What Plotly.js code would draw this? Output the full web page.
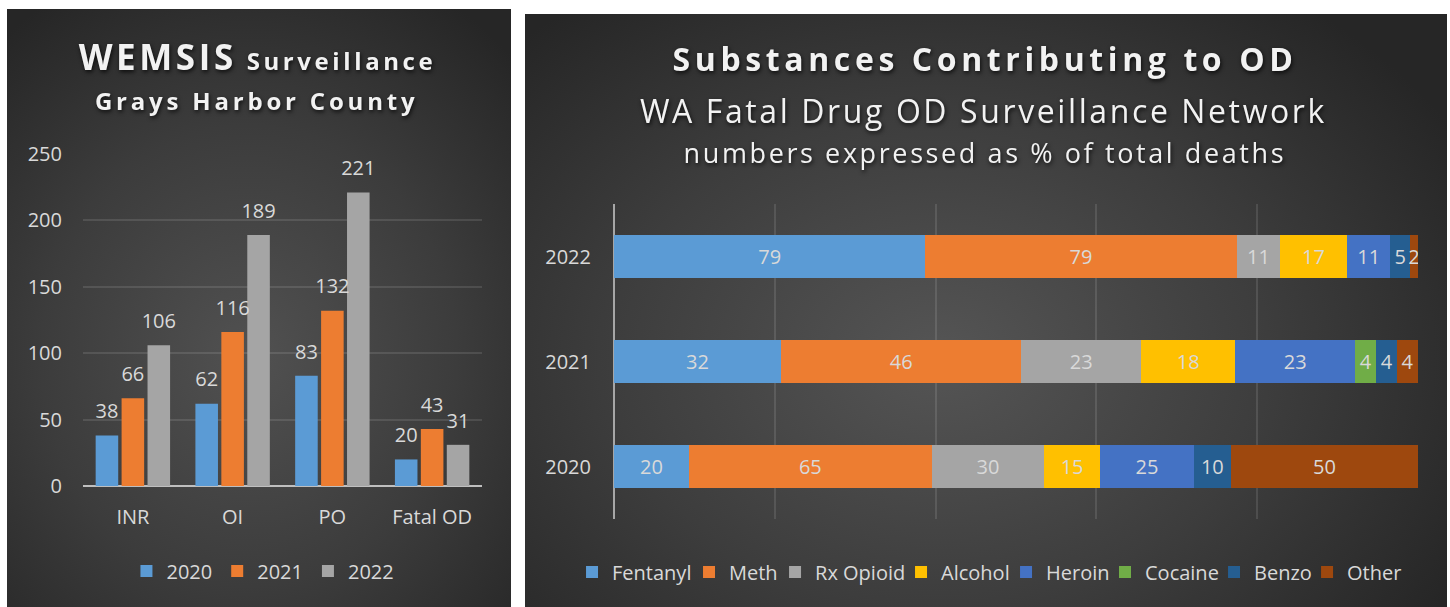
<!DOCTYPE html>
<html>
<head>
<meta charset="utf-8">
<script src="https://cdn.plot.ly/plotly-3.0.1.min.js"></script>
<style>
  html, body { margin: 0; padding: 0; background: #ffffff; width: 1450px; height: 607px; overflow: hidden; }
  #L { position: absolute; left: 7px; top: 9px; width: 504px; height: 598px;
       background: radial-gradient(ellipse 75% 70% at 48% 58%, #515151 0%, #3c3c3c 55%, #262626 100%); }
  #R { position: absolute; left: 525px; top: 14px; width: 922px; height: 593px;
       background: radial-gradient(ellipse 65% 75% at 45% 58%, #555555 0%, #3d3d3d 55%, #262626 100%); }
  .gtitle, .annotation-text { filter: drop-shadow(1px 2px 2px rgba(0,0,0,0.75)); }
  #L .gtitle { letter-spacing: 3.6px; }
  #L .annotation[data-index="0"] text { letter-spacing: 3.8px; }
  #R .gtitle { letter-spacing: 4.6px; }
  #R .annotation[data-index="0"] text { letter-spacing: 2.6px; }
  #R .annotation[data-index="1"] text { letter-spacing: 2.6px; }
</style>
</head>
<body>
<div id="L"></div>
<div id="R"></div>
<script>
// ---- Left chart data: WEMSIS Surveillance ----
const wemsisCategories = ['INR', 'OI', 'PO', 'Fatal OD'];
const wemsisYears = ['2020', '2021', '2022'];
const wemsis2020 = [38, 62, 83, 20];
const wemsis2021 = [66, 116, 132, 43];
const wemsis2022 = [106, 189, 221, 31];
const wemsisTicks = [0, 50, 100, 150, 200, 250];

// ---- Right chart data: Substances contributing to OD ----
const odYears = ['2020', '2021', '2022'];
const substances = ['Fentanyl', 'Meth', 'Rx Opioid', 'Alcohol', 'Heroin', 'Cocaine', 'Benzo', 'Other'];
const fentanyl = [20, 32, 79];
const meth     = [65, 46, 79];
const rxOpioid = [30, 23, 11];
const alcohol  = [15, 18, 17];
const heroin   = [25, 23, 11];
const cocaine  = [0, 4, 0];
const benzo    = [10, 4, 5];
const other    = [50, 4, 2];

const FONT = 'Open Sans, Noto Sans, sans-serif';
const TXT = '#d9d9d9';

// ---- Left chart ----
const leftColors = ['#5B9BD5', '#ED7D31', '#A5A5A5'];
const leftSeries = [wemsis2020, wemsis2021, wemsis2022];
const leftBars = leftSeries.map((vals, i) => ({
  type: 'bar',
  name: wemsisYears[i],
  x: wemsisCategories,
  y: vals,
  marker: { color: leftColors[i] },
  hoverinfo: 'x+y+name'
}));
// value labels, grouped to sit over each bar
const leftLabels = leftSeries.map((vals, i) => ({
  type: 'scatter',
  mode: 'markers+text',
  name: wemsisYears[i] + ' label',
  x: wemsisCategories,
  y: vals,
  text: vals.map(String),
  textposition: 'top center',
  textfont: { family: FONT, size: 20, color: TXT },
  marker: { size: 18, color: 'rgba(0,0,0,0)' },
  cliponaxis: false,
  showlegend: false,
  hoverinfo: 'skip'
}));

const leftLayout = {
  width: 504, height: 598,
  paper_bgcolor: 'rgba(0,0,0,0)', plot_bgcolor: 'rgba(0,0,0,0)',
  margin: { l: 76, r: 29, t: 145, b: 121 },
  font: { family: FONT, size: 20, color: TXT },
  barmode: 'group', bargap: 0.22, bargroupgap: 0.13,
  scattermode: 'group', scattergap: 0.22,
  title: {
    text: '<b>WEMSIS<span style="font-size:24px"> Surveillance</span></b>',
    font: { family: FONT, size: 35, color: '#f2f2f2' },
    x: 0.497, xanchor: 'center', xref: 'container',
    y: 1 - 49 / 598, yanchor: 'middle', yref: 'container'
  },
  annotations: [{
    text: '<b>Grays Harbor County</b>',
    xref: 'paper', yref: 'paper', x: 0.437, y: 1.16,
    xanchor: 'center', yanchor: 'middle', showarrow: false,
    font: { family: FONT, size: 24, color: '#f2f2f2' }
  }],
  xaxis: {
    type: 'category', showgrid: false, zeroline: false, showline: false,
    ticks: '', ticklabelstandoff: 17,
    tickfont: { family: FONT, size: 20, color: TXT }
  },
  yaxis: {
    range: [0, 250], tickvals: wemsisTicks, ticktext: wemsisTicks.map(String),
    showgrid: true, gridcolor: 'rgba(255,255,255,0.11)', gridwidth: 2,
    zeroline: true, zerolinecolor: '#bfbfbf', zerolinewidth: 2,
    showline: false, ticks: '', ticklabelstandoff: 20,
    tickfont: { family: FONT, size: 20, color: TXT }
  },
  legend: {
    orientation: 'h', x: 0.451, xanchor: 'center', y: -0.256, yanchor: 'middle',
    font: { family: FONT, size: 20, color: TXT }, traceorder: 'normal',
    bgcolor: 'rgba(0,0,0,0)'
  },
  showlegend: true
};

Plotly.newPlot('L', leftBars.concat(leftLabels), leftLayout, { displayModeBar: false, staticPlot: true });

// ---- Right chart ----
const rightColors = ['#5B9BD5', '#ED7D31', '#A5A5A5', '#FFC000', '#4472C4', '#70AD47', '#255E91', '#9E480E'];
const rightSeries = [fentanyl, meth, rxOpioid, alcohol, heroin, cocaine, benzo, other];
const legendIds = substances.map((s, i) => i === 0 ? 'legend' : 'legend' + (i + 1));
const legendX = [-0.0522, 0.0933, 0.2003, 0.3570, 0.4876, 0.6107, 0.7463, 0.8620];

const rightTraces = rightSeries.map((vals, i) => ({
  type: 'bar',
  orientation: 'h',
  name: substances[i],
  legend: legendIds[i],
  y: odYears,
  x: vals,
  text: vals.map(v => v ? String(v) : ''),
  textposition: 'inside',
  insidetextanchor: 'middle',
  constraintext: 'none',
  insidetextfont: { family: FONT, size: 20, color: TXT },
  marker: { color: rightColors[i] },
  hoverinfo: 'y+x+name'
}));

const rightLayout = {
  width: 922, height: 593,
  paper_bgcolor: 'rgba(0,0,0,0)', plot_bgcolor: 'rgba(0,0,0,0)',
  margin: { l: 89, r: 29, t: 190, b: 88 },
  font: { family: FONT, size: 20, color: TXT },
  barmode: 'stack', barnorm: 'percent', bargap: 0.59,
  title: {
    text: '<b>Substances Contributing to OD</b>',
    font: { family: FONT, size: 32, color: '#f2f2f2' },
    x: 0.499, xanchor: 'center', xref: 'container',
    y: 1 - 46 / 593, yanchor: 'middle', yref: 'container'
  },
  annotations: [{
    text: 'WA Fatal Drug OD Surveillance Network',
    xref: 'paper', yref: 'paper', x: 0.460, y: 1.298,
    xanchor: 'center', yanchor: 'middle', showarrow: false,
    font: { family: FONT, size: 32, color: '#f2f2f2' }
  }, {
    text: 'numbers expressed as % of total deaths',
    xref: 'paper', yref: 'paper', x: 0.461, y: 1.165,
    xanchor: 'center', yanchor: 'middle', showarrow: false,
    font: { family: FONT, size: 27, color: '#f2f2f2' }
  }],
  xaxis: {
    range: [0, 100], dtick: 20, showticklabels: false, ticks: '',
    showgrid: true, gridcolor: 'rgba(255,255,255,0.11)', gridwidth: 2,
    zeroline: true, zerolinecolor: '#a6a6a6', zerolinewidth: 2, showline: false
  },
  yaxis: {
    type: 'category', categoryorder: 'array', categoryarray: odYears,
    showgrid: false, zeroline: false, showline: false, ticks: '',
    ticklabelstandoff: 22,
    tickfont: { family: FONT, size: 20, color: TXT }
  },
  showlegend: true
};
legendIds.forEach((id, i) => {
  rightLayout[id] = {
    orientation: 'h', x: legendX[i], xanchor: 'left',
    y: -0.168, yanchor: 'middle',
    font: { family: FONT, size: 20, color: TXT },
    bgcolor: 'rgba(0,0,0,0)', borderwidth: 0
  };
});

Plotly.newPlot('R', rightTraces, rightLayout, { displayModeBar: false, staticPlot: true });
</script>
</body>
</html>
